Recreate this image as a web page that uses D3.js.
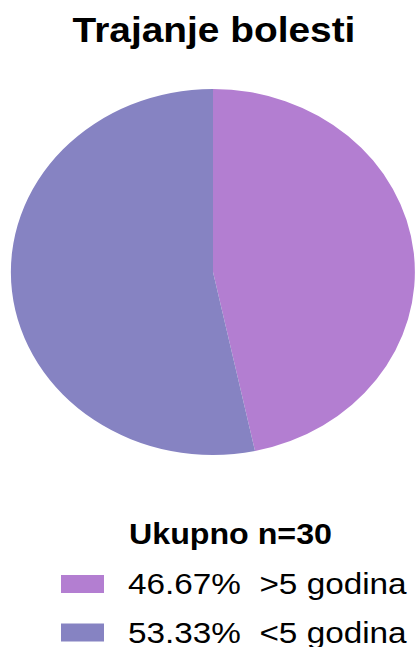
<!DOCTYPE html>
<html>
<head>
<meta charset="utf-8">
<script src="https://cdn.jsdelivr.net/npm/d3@7"></script>
<style>
  body { margin: 0; background: #fff; }
  svg { display: block; font-family: "Liberation Sans", Arial, sans-serif; }
</style>
</head>
<body>
<svg id="chart" width="415" height="647"></svg>
<script>
// podaci
const categories = [">5 godina", "<5 godina"]
const shares = [46.67, 53.33]
const colors = ["#b37ed1", "#8683c2"]
const total = 30

// slika je malo razvucena vodoravno
const stretch = 1.11

let svg = d3.select("#chart")

svg.append("text")
    .attr("transform", "translate(214,42) scale(" + stretch + ",1)")
    .attr("text-anchor", "middle")
    .attr("font-size", 35)
    .attr("font-weight", "bold")
    .text("Trajanje bolesti")

let data = categories.map((c, i) => ({ label: c, value: shares[i], color: colors[i] }))

let pie = d3.pie().sort(null).value(d => d.value)
let arc = d3.arc().innerRadius(0).outerRadius(1)

// elipsa: jedinicni krug skaliran
let g = svg.append("g")
    .attr("transform", "translate(213,272) scale(202,183)")

g.selectAll("path")
    .data(pie(data))
    .enter().append("path")
    .attr("d", arc)
    .attr("fill", d => d.data.color)

// legenda
svg.append("text")
    .attr("transform", "translate(129,544) scale(" + stretch + ",1)")
    .attr("font-size", 29)
    .attr("font-weight", "bold")
    .text("Ukupno n=" + total)

let legend = svg.selectAll(".leg")
    .data(data)
    .enter().append("g")
    .attr("class", "leg")
    .attr("transform", (d, i) => "translate(0," + (i * 48.5) + ")")

legend.append("rect")
    .attr("x", 61)
    .attr("y", 575)
    .attr("width", 43)
    .attr("height", 18)
    .attr("fill", d => d.color)

legend.append("text")
    .attr("transform", "translate(128,594) scale(" + stretch + ",1)")
    .attr("font-size", 30)
    .attr("xml:space", "preserve")
    .style("white-space", "pre")
    .text(d => d.value.toFixed(2) + "%  " + d.label)
</script>
</body>
</html>
